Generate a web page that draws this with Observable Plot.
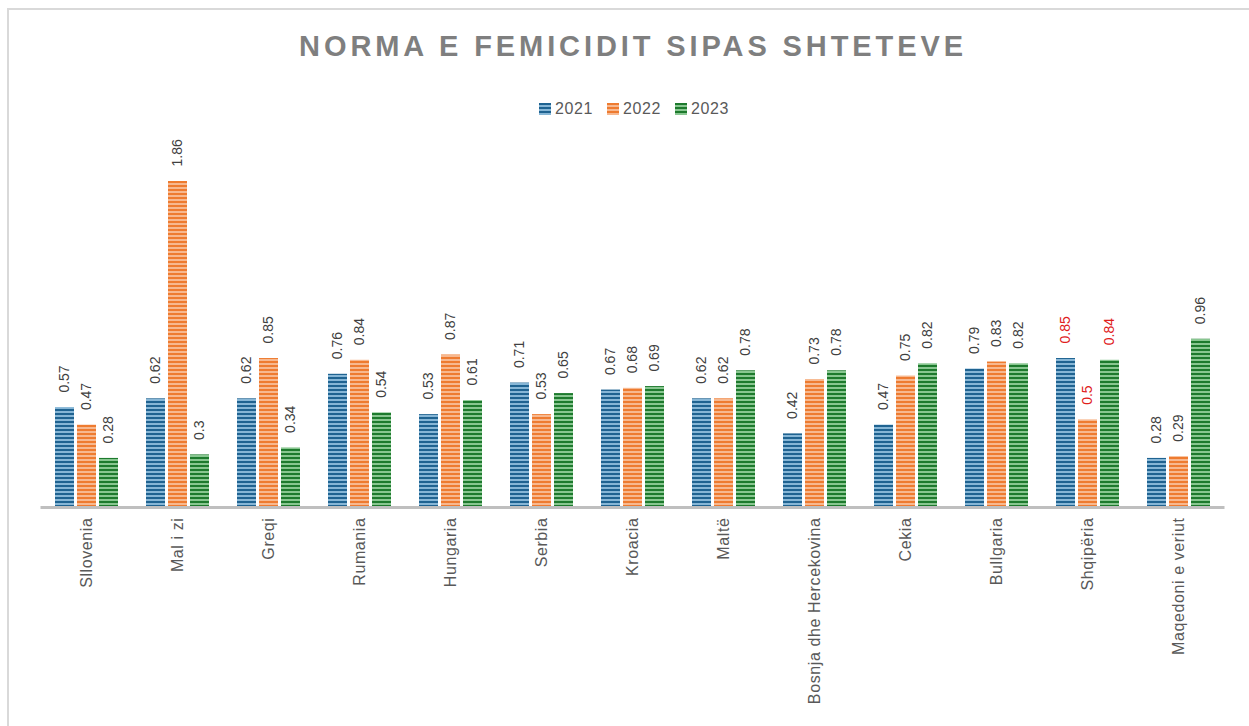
<!DOCTYPE html>
<html>
<head>
<meta charset="utf-8">
<script src="https://cdn.jsdelivr.net/npm/d3@7"></script>
<script src="https://cdn.jsdelivr.net/npm/@observablehq/plot@0.6"></script>
<style>
  html, body { margin: 0; padding: 0; background: #fff; overflow: hidden; }
  #frame { position: absolute; left: 7px; top: 8px; right: -10px; bottom: -10px;
           border-left: 2px solid #d9d9d9; border-top: 2px solid #d9d9d9; }
  #title { position: absolute; left: 0; width: 1266px; top: 30px; text-align: center;
           font-family: "Liberation Sans", Arial, sans-serif; font-weight: bold; font-size: 29px;
           letter-spacing: 3.9px; color: #7f7f7f; }
  #legend { position: absolute; left: 0; width: 1268px; top: 100px; text-align: center;
            font-family: "Liberation Sans", Arial, sans-serif; font-size: 16px; color: #595959;
            letter-spacing: 0.6px; }
  #legend span.item { display: inline-block; margin: 0 7px; }
  #legend svg { vertical-align: -1px; margin-right: 4px; }
  #chart { position: absolute; left: 0; top: 125px; }
</style>
</head>
<body>
<div id="frame"></div>
<div id="title">NORMA E FEMICIDIT SIPAS SHTETEVE</div>
<div id="legend"></div>
<div id="chart"></div>
<script>
const countries = ["Sllovenia", "Mal i zi", "Greqi", "Rumania", "Hungaria", "Serbia", "Kroacia", "Maltë",
  "Bosnja dhe Hercekovina", "Cekia", "Bullgaria", "Shqipëria", "Maqedoni e veriut"];
const years = ["2021", "2022", "2023"];
const values2021 = [0.57, 0.62, 0.62, 0.76, 0.53, 0.71, 0.67, 0.62, 0.42, 0.47, 0.79, 0.85, 0.28];
const values2022 = [0.47, 1.86, 0.85, 0.84, 0.87, 0.53, 0.68, 0.62, 0.73, 0.75, 0.83, 0.50, 0.29];
const values2023 = [0.28, 0.30, 0.34, 0.54, 0.61, 0.65, 0.69, 0.78, 0.78, 0.82, 0.82, 0.84, 0.96];
const highlighted = ["Shqipëria"];
const stripeColors = {
  "2021": ["#1f6391", "#86b6d6"],
  "2022": ["#ee7b30", "#f7b88f"],
  "2023": ["#1d7a2d", "#88c690"]
};

const series = [values2021, values2022, values2023];
const rows = [];
countries.forEach((c, i) => years.forEach((yr, j) => rows.push({country: c, year: yr, value: series[j][i]})));

const patternDefs = () => {
  const defs = d3.create("svg:defs");
  for (const yr of years) {
    const [dark, light] = stripeColors[yr];
    const p = defs.append("pattern").attr("id", "p" + yr).attr("patternUnits", "userSpaceOnUse")
      .attr("width", 4).attr("height", 4);
    p.append("rect").attr("width", 4).attr("height", 4).attr("fill", light);
    p.append("rect").attr("width", 4).attr("height", 2).attr("fill", dark);
  }
  return defs.node();
};

const chart = Plot.plot({
  width: 1249,
  height: 601,
  marginLeft: 37,
  marginRight: 21,
  marginTop: 56,
  marginBottom: 219,
  fx: {domain: countries, paddingInner: 0.31, paddingOuter: 0.155, label: null},
  x: {domain: years, paddingInner: 0.14, paddingOuter: 0, axis: null},
  y: {domain: [0, 1.86], axis: null},
  style: {fontFamily: "'Liberation Sans', Arial, sans-serif", background: "transparent"},
  marks: [
    patternDefs,
    ...years.map(yr => Plot.barY(rows.filter(d => d.year === yr), {
      fx: "country", x: "year", y: "value", fill: "url(#p" + yr + ")"
    })),
    Plot.text(rows, {
      fx: "country", x: "year", y: "value", text: d => String(d.value),
      rotate: -90, textAnchor: "start", dy: -15, fontSize: 14,
      fill: d => highlighted.includes(d.country) ? "#e0201b" : "#404040"
    }),
    Plot.ruleY([0], {stroke: "#bfbfbf", strokeWidth: 3, insetLeft: -14.5, insetRight: -14.5}),
    Plot.axisFx({anchor: "bottom", tickRotate: -90, tickSize: 0, tickPadding: 10,
      fontSize: 16, fill: "#595959", label: null})
  ]
});
d3.select(chart).selectAll("g[aria-label='fx-axis tick label']").style("letter-spacing", "0.6px");
document.getElementById("chart").appendChild(chart);

const legend = document.getElementById("legend");
for (const yr of years) {
  const item = document.createElement("span");
  item.className = "item";
  item.innerHTML = `<svg width="12" height="12"><rect width="12" height="12" fill="url(#p${yr})"/></svg>${yr}`;
  legend.appendChild(item);
}
</script>
</body>
</html>
